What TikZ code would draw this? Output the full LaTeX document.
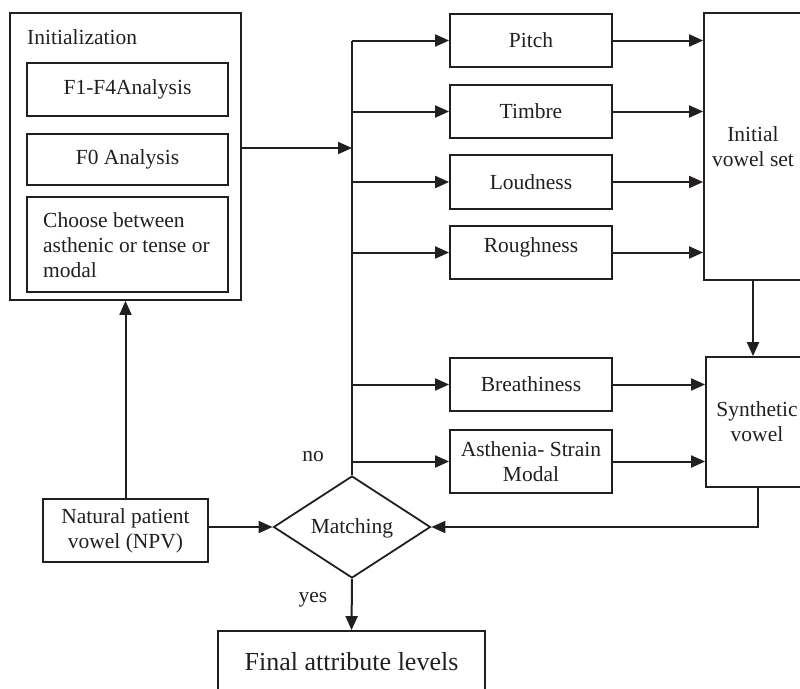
\documentclass[tikz,border=0pt]{standalone}
\usepackage{fontspec}
\setmainfont{Liberation Serif}
\usetikzlibrary{arrows.meta,shapes.geometric}
\definecolor{ink}{HTML}{231F20}
\begin{document}
\begin{tikzpicture}[x=1pt,y=-1pt,
  every node/.style={text=ink,font=\fontsize{21.5}{25}\selectfont},
  box/.style={draw=ink,line width=1.8pt,rectangle,inner sep=0pt,align=center},
  arr/.style={draw=ink,line width=2pt,-{Triangle[length=14pt,width=12pt]}},
  ln/.style={draw=ink,line width=2pt},
  lbl/.style={inner sep=0pt}]
\useasboundingbox (0,0) rectangle (800,688);
\clip (0,0) rectangle (800,688);
% initialization block
\node[box,minimum width=231pt,minimum height=287pt] (init) at (125.5,156.5) {};
\node[lbl,anchor=west] (inittitle) at (27,37) {Initialization};
\node[box,minimum width=201pt,minimum height=53pt] (f14) at (127.5,89.5) {F1-F4Analysis};
\node[box,minimum width=201pt,minimum height=51pt] (f0) at (127.5,159.5) {F0 Analysis};
\node[box,minimum width=201pt,minimum height=95pt] (choose) at (127.5,244.5) {};
\node[lbl,anchor=west,align=left] (choosetxt) at (43,245) {Choose between\\asthenic or tense or\\modal};
% attribute boxes
\node[box,minimum width=162pt,minimum height=53pt] (pitch) at (531,40.5) {Pitch};
\node[box,minimum width=162pt,minimum height=53pt] (timbre) at (531,111.5) {Timbre};
\node[box,minimum width=162pt,minimum height=54pt] (loud) at (531,182) {Loudness};
\node[box,minimum width=162pt,minimum height=53pt] (rough) at (531,252.5) {};
\node[lbl] (roughtxt) at (531,247) {Roughness};
\node[box,minimum width=162pt,minimum height=53pt] (breath) at (531,384.5) {Breathiness};
\node[box,minimum width=162pt,minimum height=63pt] (asth) at (531,461.5) {Asthenia- Strain\\Modal};
% right boxes
\node[box,minimum width=98pt,minimum height=267pt] (ivs) at (753,146.5) {Initial\\vowel set};
\node[box,minimum width=102pt,minimum height=130pt] (syn) at (757,422) {Synthetic\\vowel};
% bottom
\node[box,minimum width=165pt,minimum height=63pt] (npv) at (125.5,530.5) {Natural patient\\vowel (NPV)};
\node[draw=ink,line width=1.8pt,diamond,aspect=1.5,inner sep=0pt,minimum width=157pt,minimum height=102pt] (match) at (352,527) {};
\node[lbl] (matchtxt) at (352,528) {Matching};
\node[box,minimum width=267pt,minimum height=69pt,font=\fontsize{26}{30}\selectfont] (final) at (351.5,665.5) {};
\node[lbl,font=\fontsize{26}{30}\selectfont] (finaltxt) at (351.5,662) {Final attribute levels};
\node[lbl] (no) at (313,457) {no};
\node[lbl] (yes) at (313,600) {yes};
% bus
\coordinate (bustop) at (352,40.5);
\coordinate (dn) at (753,0);
\coordinate (fb) at (758,527);
\draw[ln] (bustop) -- (match.north);
\draw[arr] (init.east |- 0,148) -- (352,148);
\foreach \n in {pitch,timbre,loud,rough,breath,asth}{
  \draw[arr] (bustop |- \n.west) -- (\n.west);
}
\foreach \n in {pitch,timbre,loud,rough}{
  \draw[arr] (\n.east) -- (\n.east -| ivs.west);
}
\foreach \n in {breath,asth}{
  \draw[arr] (\n.east) -- (\n.east -| syn.west);
}
\draw[arr] (ivs.south -| dn) -- (syn.north -| dn);
\draw[arr] (fb |- syn.south) -- (fb) -- (match.east);
\draw[arr] (npv.east |- match.west) -- (match.west);
\draw[arr] (npv.north) -- (npv.north |- init.south);
\draw[arr] (match.south) -- (final.north);
\end{tikzpicture}
\end{document}
